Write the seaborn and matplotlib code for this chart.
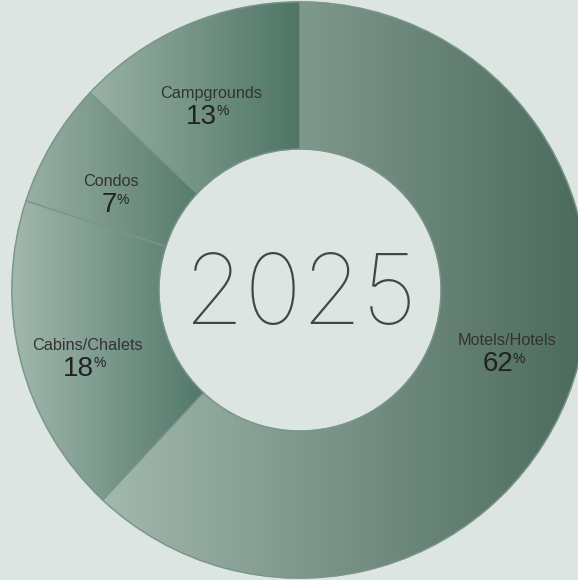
import numpy as np
import matplotlib
matplotlib.use("Agg")
import matplotlib.pyplot as plt
import seaborn as sns

# ---- data ----
categories = ["Motels/Hotels", "Cabins/Chalets", "Condos", "Campgrounds"]
shares = [62, 18, 7, 13]
center_label = "2025"

# gradient colours per slice (light -> dark, left to right)
light_cols = ["#a3b8ae", "#a2b8ad", "#98b0a4", "#9ab1a6"]
dark_cols = ["#4b6a5c", "#52786a", "#577b6c", "#4e7565"]
bg = "#dde5e3"

sns.set_theme(style="white")
plt.rcParams["font.family"] = ["Liberation Sans", "DejaVu Sans"]

fig = plt.figure(figsize=(5.78, 5.80), dpi=100)
fig.patch.set_facecolor(bg)
ax = fig.add_axes([0, 0, 1, 1])
ax.set_facecolor(bg)

R = 1.0
ring = 0.51
wedges, _ = ax.pie(shares, startangle=90, counterclock=False, radius=R,
                   colors=[sns.blend_palette([l, d], 3)[1] for l, d in zip(light_cols, dark_cols)],
                   wedgeprops=dict(width=ring, edgecolor="#7d978b", linewidth=1.2))

# gradient fill clipped to each wedge
for w, lc, dc in zip(wedges, light_cols, dark_cols):
    ext = w.get_path().get_extents()
    cmap = sns.blend_palette([lc, dc], as_cmap=True)
    grad = np.linspace(0, 1, 256)[None, :]
    im = ax.imshow(grad, cmap=cmap, extent=[ext.x0, ext.x1, ext.y0, ext.y1],
                   aspect="auto", interpolation="bilinear", zorder=1.5)
    im.set_clip_path(w)
    w.set_zorder(1)

# edges on top
for w in wedges:
    ax.add_patch(matplotlib.patches.Wedge(w.center, w.r, w.theta1, w.theta2, width=ring,
                                          facecolor="none", edgecolor="#7a968a",
                                          linewidth=1.0, zorder=2, alpha=0.8))

# labels at slice mid-angles
angle_nudge = [8.5, 0, 0, 0]
cum = 0
for cat, val, nudge in zip(categories, shares, angle_nudge):
    mid = 90 - (cum + val / 2) / 100 * 360 + nudge
    cum += val
    r = 0.75
    x = r * np.cos(np.radians(mid))
    y = r * np.sin(np.radians(mid))
    ax.text(x - 0.01, y - 0.005, cat, ha="center", va="center", fontsize=11.7, color="#333333", zorder=3)
    ax.text(x + 0.01, y - 0.087, f"{val}", ha="right", va="center", fontsize=20,
            color="#222222", zorder=3)
    ax.text(x + 0.008, y - 0.068, "%", ha="left", va="center", fontsize=10,
            color="#222222", zorder=3)

ax.text(0, -0.03, center_label, ha="center", va="center", fontsize=70,
        fontfamily="Inter", fontweight=100, color="#444444", zorder=3)

cx, cy = 300, 290
px = 288.0
ax.set_xlim(-cx / px, (578 - cx) / px)
ax.set_ylim(-(580 - cy) / px, cy / px)
ax.set_aspect("equal")
ax.axis("off")

fig.savefig("out.png", dpi=100, facecolor=bg)
